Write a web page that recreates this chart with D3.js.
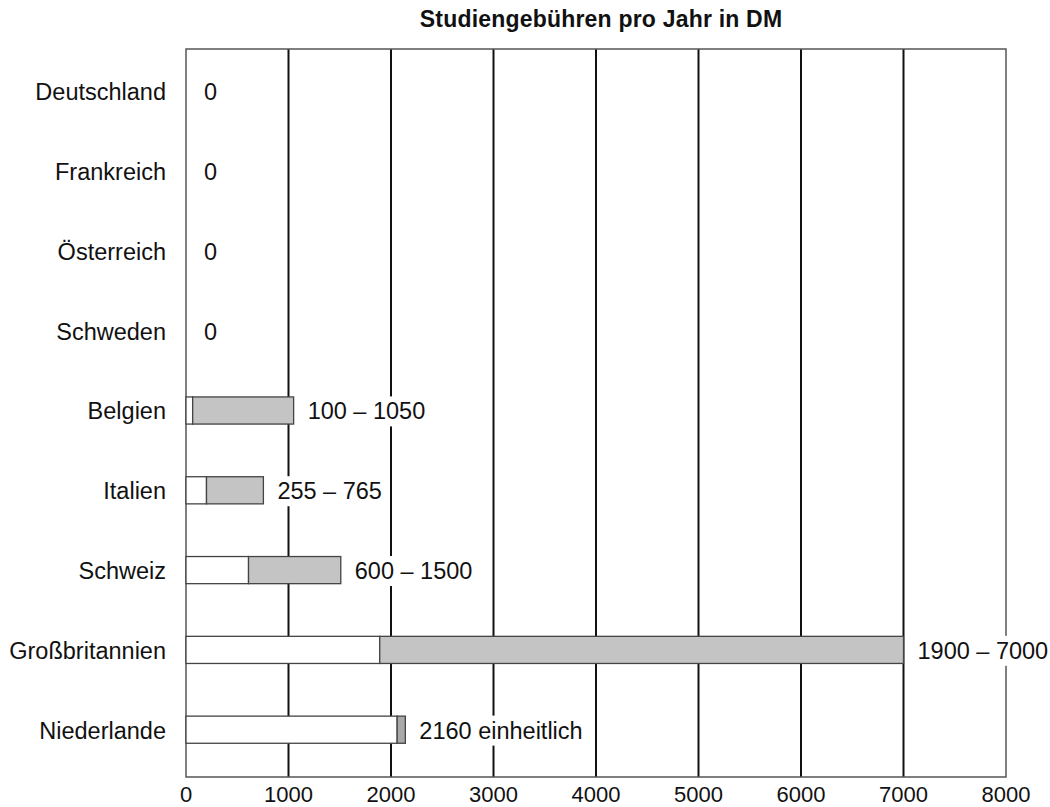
<!DOCTYPE html>
<html>
<head>
<meta charset="utf-8">
<script src="https://cdn.jsdelivr.net/npm/d3@7"></script>
<style>
  body { margin: 0; background: #fff; }
  text { font-family: "Liberation Sans", Arial, sans-serif; fill: #111; }
</style>
</head>
<body>
<svg id="chart" width="1050" height="807"></svg>
<script>
const title = "Studiengebühren pro Jahr in DM";
const countries = ["Deutschland", "Frankreich", "Österreich", "Schweden", "Belgien", "Italien", "Schweiz", "Großbritannien", "Niederlande"];
const lowValues  = [0, 0, 0, 0, 65, 200, 610, 1890, 2060];
const highValues = [0, 0, 0, 0, 1050, 755, 1510, 7000, 2140];
const valueLabels = ["0", "0", "0", "0", "100 – 1050", "255 – 765", "600 – 1500", "1900 – 7000", "2160 einheitlich"];
const tickValues = [0, 1000, 2000, 3000, 4000, 5000, 6000, 7000, 8000];

(function () {
const svg = d3.select("#chart");
const pL = 186, pR = 1006, pT = 49, pB = 777;

const x = d3.scaleLinear().domain([0, 8000]).range([pL, pR]);
const y = d3.scaleBand().domain(countries).range([51.4, 769.6]).padding(0);
const barH = y.bandwidth() * 0.34;

// gridlines
svg.append("g").selectAll("line")
  .data(tickValues.filter(t => t > 0 && t < 8000))
  .join("line")
  .attr("x1", d => x(d)).attr("x2", d => x(d))
  .attr("y1", pT).attr("y2", pB)
  .attr("stroke", "#111").attr("stroke-width", 2);

// frame
svg.append("rect")
  .attr("x", pL).attr("y", pT)
  .attr("width", pR - pL).attr("height", pB - pT)
  .attr("fill", "none").attr("stroke", "#555").attr("stroke-width", 1.5);

// title
svg.append("text")
  .attr("x", 601).attr("y", 27)
  .attr("text-anchor", "middle")
  .attr("font-size", 23).attr("font-weight", "bold")
  .attr("letter-spacing", 0.2)
  .text(title);

// x tick labels
svg.append("g").selectAll("text")
  .data(tickValues)
  .join("text")
  .attr("x", d => x(d)).attr("y", 802)
  .attr("text-anchor", "middle")
  .attr("font-size", 22)
  .text(d => d);

// category labels
svg.append("g").selectAll("text")
  .data(countries)
  .join("text")
  .attr("x", 166).attr("y", d => y(d) + y.bandwidth() / 2)
  .attr("dy", "0.38em")
  .attr("text-anchor", "end")
  .attr("font-size", 23.5)
  .text(d => d);

const rows = countries.map((c, i) => ({ c, lo: lowValues[i], hi: highValues[i], label: valueLabels[i], i }));

// bars
const barRows = rows.filter(r => r.hi > 0);
const bg = svg.append("g");
bg.selectAll("rect.low")
  .data(barRows)
  .join("rect").attr("class", "low")
  .attr("x", x(0)).attr("y", r => y(r.c) + (y.bandwidth() - barH) / 2)
  .attr("width", r => x(r.lo) - x(0)).attr("height", barH)
  .attr("fill", "#fff").attr("stroke", "#444").attr("stroke-width", 1.3);
bg.selectAll("rect.high")
  .data(barRows)
  .join("rect").attr("class", "high")
  .attr("x", r => x(r.lo)).attr("y", r => y(r.c) + (y.bandwidth() - barH) / 2)
  .attr("width", r => x(r.hi) - x(r.lo)).attr("height", barH)
  .attr("fill", r => r.c === "Niederlande" ? "#a9a9a9" : "#c4c4c4")
  .attr("stroke", "#444").attr("stroke-width", 1.3);

// value labels with white background
const lg = svg.append("g");
rows.forEach(r => {
  const g = lg.append("g");
  const t = g.append("text")
    .attr("x", r.hi > 0 ? x(r.hi) + 14 : x(0) + 18)
    .attr("y", y(r.c) + y.bandwidth() / 2)
    .attr("dy", "0.38em")
    .attr("font-size", 23.5)
    .text(r.label);
  const b = t.node().getBBox();
  g.insert("rect", "text")
    .attr("x", b.x - 4).attr("y", b.y - 2)
    .attr("width", b.width + 8).attr("height", b.height + 4)
    .attr("fill", "#fff");
});
})();
</script>
</body>
</html>
